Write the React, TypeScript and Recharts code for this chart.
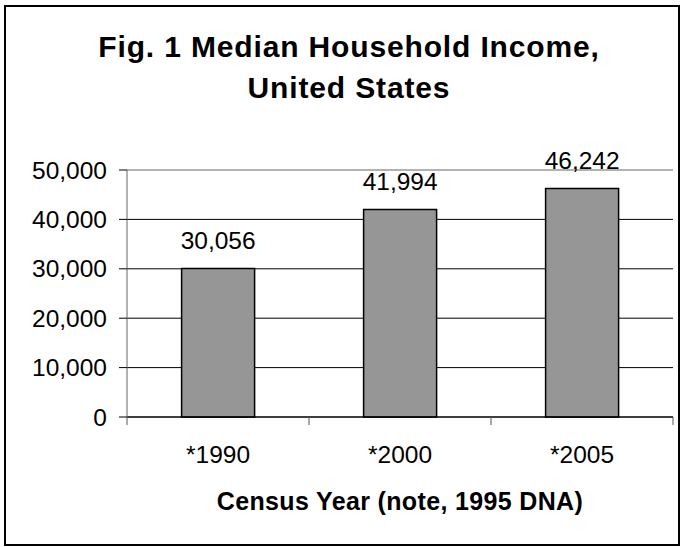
import React from 'react';
import { BarChart, Bar, XAxis, YAxis, CartesianGrid, LabelList, ReferenceLine } from 'recharts';

const categories = ['*1990', '*2000', '*2005'];
const incomes = [30056, 41994, 46242];
const yTicks = [0, 10000, 20000, 30000, 40000, 50000];
const titleLines = ['Fig. 1 Median Household Income,', 'United States'];
const xAxisTitle = 'Census Year (note, 1995 DNA)';

const data = categories.map((c, i) => ({ year: c, income: incomes[i] }));

const W = 684;
const H = 547;
const Y_AXIS_W = 100;
const X_AXIS_H = 30;
const MARGIN = { top: 170, right: 11, bottom: 100, left: 27 };
const PLOT_W = W - MARGIN.left - Y_AXIS_W - MARGIN.right;
const AXIS_Y = H - MARGIN.bottom - X_AXIS_H;
const FONT = '"Liberation Sans", Arial, Helvetica, sans-serif';
const fmt = (v: number) => v.toLocaleString('en-US');

const XTick = (props: any) => {
  const { x, payload, index } = props;
  const band = PLOT_W / categories.length;
  const last = index === categories.length - 1;
  return (
    <g>
      <line x1={x - band / 2} x2={x - band / 2} y1={AXIS_Y} y2={AXIS_Y + 8} stroke="#555" strokeWidth={1} />
      {last && <line x1={x + band / 2} x2={x + band / 2} y1={AXIS_Y} y2={AXIS_Y + 8} stroke="#555" strokeWidth={1} />}
      <text x={x} y={AXIS_Y + 46} textAnchor="middle" fontSize={24.5} fontFamily={FONT} fill="#000">
        {payload.value}
      </text>
    </g>
  );
};

export default function App() {
  return (
    <div style={{ position: 'absolute', left: 0, top: 0, width: W, height: H, background: '#fff' }}>
      <BarChart width={W} height={H} data={data} margin={MARGIN} barCategoryGap="30%">
        <CartesianGrid horizontal vertical={false} stroke="#000" strokeWidth={1} />
        <ReferenceLine y={50000} stroke="#e4e4e4" strokeWidth={1} ifOverflow="visible" />
        <XAxis
          dataKey="year"
          height={X_AXIS_H}
          tickLine={false}
          axisLine={{ stroke: '#000', strokeWidth: 1 }}
          tick={<XTick />}
          interval={0}
        />
        <YAxis
          width={Y_AXIS_W}
          domain={[0, 50000]}
          ticks={yTicks}
          tickFormatter={fmt}
          tickSize={8}
          tickMargin={12}
          axisLine={{ stroke: '#666', strokeWidth: 1 }}
          tickLine={{ stroke: '#000', strokeWidth: 1 }}
          tick={{ fontSize: 24.5, fontFamily: FONT, fill: '#000' }}
        />
        <Bar dataKey="income" fill="#969696" stroke="#000" strokeWidth={1.5} isAnimationActive={false}>
          <LabelList
            dataKey="income"
            position="top"
            offset={20}
            formatter={(v: any) => fmt(Number(v))}
            style={{ fontSize: 24.5, fontFamily: FONT, fill: '#000' }}
          />
        </Bar>
      </BarChart>
      <svg width={W} height={H} style={{ position: 'absolute', left: 0, top: 0, pointerEvents: 'none' }}>
        <rect x={5} y={6} width={674} height={539} fill="none" stroke="#000" strokeWidth={2} />
        {titleLines.map((t, i) => (
          <text key={t} x={349} y={57 + i * 41} textAnchor="middle" fontSize={30} letterSpacing={0.85} fontWeight="bold" fontFamily={FONT} fill="#000">
            {t}
          </text>
        ))}
        <text x={400} y={510} textAnchor="middle" fontSize={25} letterSpacing={0.35} fontWeight="bold" fontFamily={FONT} fill="#000">
          {xAxisTitle}
        </text>
      </svg>
    </div>
  );
}
